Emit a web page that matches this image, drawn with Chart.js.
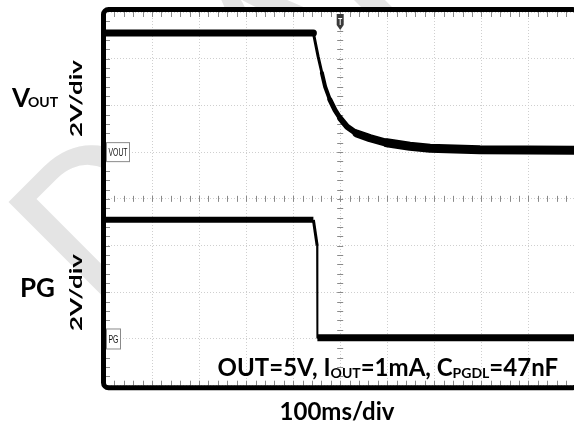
<!DOCTYPE html>
<html>
<head>
<meta charset="utf-8">
<script src="https://cdn.jsdelivr.net/npm/chart.js@4.4.1/dist/chart.umd.min.js"></script>
<style>
  html, body { margin: 0; padding: 0; background: #fff; overflow: hidden; }
  #wrap { width: 600px; height: 426px; }
</style>
</head>
<body>
<div id="wrap"><canvas id="scope" width="600" height="426"></canvas></div>
<script>
// scope settings: 100 ms/div horizontally, 2 V/div vertically, 10 x 8 divisions
const timeRangeMs = [0, 1000];
const divRange = [0, 8];
const voltsPerDiv = 2;
const voutGroundDiv = 5;
const pgGroundDiv = 1;

// VOUT trace (ms, V)
const voutTimeMs = [0, 443, 446, 453, 461, 468, 478, 489, 500, 514, 535, 563, 599, 648, 691, 797, 1000];
const voutVolts  = [5.1, 5.1, 4.8, 4.1, 3.4, 2.8, 2.25, 1.8, 1.45, 1.1, 0.8, 0.6, 0.4, 0.25, 0.17, 0.1, 0.08];

// PG trace (ms, V)
const pgTimeMs = [0, 443, 451, 451.5, 1000];
const pgVolts  = [5.1, 5.1, 4.0, 0.05, 0.05];

function toDiv(times, volts, ground) {
    return times.map((t, i) => ({ x: t, y: ground + volts[i] / voltsPerDiv }));
}

function voutWidth(ctx) {
    const x = ctx.p0.parsed.x;
    if (x < 443) return 7;
    if (x < 461) return 3;
    if (x < 478) return 4;
    if (x < 500) return 5;
    if (x < 535) return 6;
    if (x < 599) return 8;
    return 9;
}

function pgWidth(ctx) {
    const x = ctx.p0.parsed.x;
    if (x < 443) return 6;
    if (x < 451) return 3;
    if (x < 451.5) return 2;
    return 7;
}

// watermark + white screen behind the grid
const backdrop = {
    id: 'backdrop',
    beforeDraw(chart) {
        const { ctx, chartArea: a } = chart;
        ctx.save();
        ctx.fillStyle = '#e4e4e4';
        ctx.translate(92, 308);
        ctx.rotate(-Math.PI / 4);
        ctx.font = '600 186px Lato';
        ctx.textBaseline = 'alphabetic';
        ctx.fillText('DRAFT', 0, 0);
        ctx.restore();

        ctx.save();
        ctx.fillStyle = '#fff';
        ctx.fillRect(a.left - 4, a.top - 4, a.right - a.left + 8, a.bottom - a.top + 8);
        ctx.restore();
    }
};

// minor tick marks on frame and centre lines
const minorTicks = {
    id: 'minorTicks',
    beforeDatasetsDraw(chart) {
        const { ctx, chartArea: a, scales: { x, y } } = chart;
        ctx.save();
        ctx.strokeStyle = '#8a8a8a';
        ctx.lineWidth = 1;
        ctx.beginPath();
        const cx = x.getPixelForValue(500), cy = y.getPixelForValue(4);
        for (let t = timeRangeMs[0]; t <= timeRangeMs[1]; t += 20) {
            const px = Math.round(x.getPixelForValue(t)) + 0.5;
            ctx.moveTo(px, a.top); ctx.lineTo(px, a.top + 5);
            ctx.moveTo(px, a.bottom); ctx.lineTo(px, a.bottom - 5);
            ctx.moveTo(px, cy - 3); ctx.lineTo(px, cy + 3);
        }
        for (let d = divRange[0]; d <= divRange[1]; d += 0.2) {
            const py = Math.round(y.getPixelForValue(d)) + 0.5;
            ctx.moveTo(a.left, py); ctx.lineTo(a.left + 5, py);
            ctx.moveTo(cx - 3, py); ctx.lineTo(cx + 3, py);
        }
        ctx.stroke();
        ctx.restore();
    }
};

function channelTag(ctx, text, x0, yc, w, h) {
    ctx.save();
    ctx.fillStyle = '#fff';
    ctx.fillRect(x0, yc - h / 2, w, h);
    ctx.strokeStyle = '#8a8a8a';
    ctx.lineWidth = 1;
    ctx.strokeRect(x0 + 0.5, yc - h / 2 + 0.5, w - 1, h - 1);
    ctx.fillStyle = '#111';
    ctx.font = '10px "Liberation Sans"';
    const tw = ctx.measureText(text).width;
    ctx.translate(x0 + w / 2, yc + 4);
    ctx.scale((w - 5) / tw, 1);
    ctx.textAlign = 'center';
    ctx.fillText(text, 0, 0);
    ctx.restore();
}

function runs(ctx, parts, xRight, baseline) {
    let total = 0;
    parts.forEach(p => { ctx.font = 'bold ' + p[1] + 'px Lato'; total += ctx.measureText(p[0]).width; });
    let xp = xRight - total;
    parts.forEach(p => {
        ctx.font = 'bold ' + p[1] + 'px Lato';
        ctx.fillText(p[0], xp, baseline + p[2]);
        xp += ctx.measureText(p[0]).width;
    });
}

const frameAndText = {
    id: 'frameAndText',
    afterDraw(chart) {
        const { ctx, chartArea: a, scales: { x, y } } = chart;
        ctx.save();
        // frame
        ctx.strokeStyle = '#000';
        ctx.lineWidth = 5;
        ctx.beginPath();
        ctx.roundRect(a.left - 1.5, a.top - 2.5, a.right - a.left + 4, a.bottom - a.top + 4.5, 5);
        ctx.stroke();

        // trigger marker
        const tx = x.getPixelForValue(500);
        ctx.fillStyle = '#3a3a3a';
        ctx.beginPath();
        ctx.moveTo(tx - 3.5, a.top + 2);
        ctx.lineTo(tx + 3.5, a.top + 2);
        ctx.lineTo(tx + 3.5, a.top + 13);
        ctx.lineTo(tx, a.top + 18);
        ctx.lineTo(tx - 3.5, a.top + 13);
        ctx.closePath();
        ctx.fill();
        ctx.strokeStyle = '#fff';
        ctx.lineWidth = 1;
        ctx.beginPath();
        ctx.moveTo(tx - 2, a.top + 6.5); ctx.lineTo(tx + 2, a.top + 6.5);
        ctx.moveTo(tx, a.top + 6.5); ctx.lineTo(tx, a.top + 13);
        ctx.stroke();

        channelTag(ctx, 'VOUT', a.left + 1, y.getPixelForValue(voutGroundDiv), 24, 20);
        channelTag(ctx, 'PG', a.left + 1, y.getPixelForValue(pgGroundDiv), 15, 21);

        ctx.fillStyle = '#000';
        ctx.textAlign = 'left';
        ctx.textBaseline = 'alphabetic';
        // channel names
        ctx.font = 'bold 26px Lato';
        ctx.fillText('V', 12, 107);
        ctx.font = 'bold 14px Lato';
        ctx.fillText('OUT', 28, 107);
        ctx.font = 'bold 26px Lato';
        ctx.fillText('PG', 20, 297);

        // vertical scale labels
        [98.5, 292.5].forEach(cy => {
            ctx.save();
            ctx.font = 'bold 17px Lato';
            const w = ctx.measureText('2V/div').width;
            ctx.translate(82, cy);
            ctx.rotate(-Math.PI / 2);
            ctx.scale(77 / w, 1);
            ctx.textAlign = 'center';
            ctx.fillText('2V/div', 0, 0);
            ctx.restore();
        });

        // time scale
        ctx.font = 'bold 24px Lato';
        ctx.textAlign = 'center';
        ctx.fillText('100ms/div', 337, 420);

        // conditions
        ctx.textAlign = 'left';
        runs(ctx, [['OUT=5V, I', 24, 0], ['OUT', 14, 2], ['=1mA, C', 24, 0], ['PGDL', 14, 2], ['=47nF', 24, 0]], 558, 376);
        ctx.restore();
    }
};

new Chart(document.getElementById('scope'), {
    type: 'line',
    data: {
        datasets: [
            {
                label: 'VOUT',
                data: toDiv(voutTimeMs, voutVolts, voutGroundDiv),
                borderColor: '#000',
                borderWidth: 7,
                pointRadius: 0,
                tension: 0,
                borderJoinStyle: 'round',
                borderCapStyle: 'round',
                segment: { borderWidth: voutWidth }
            },
            {
                label: 'PG',
                data: toDiv(pgTimeMs, pgVolts, pgGroundDiv),
                borderColor: '#000',
                borderWidth: 6,
                pointRadius: 0,
                tension: 0,
                borderJoinStyle: 'round',
                segment: { borderWidth: pgWidth }
            }
        ]
    },
    options: {
        responsive: false,
        animation: false,
        layout: { padding: { left: 105, top: 12, right: 24.6, bottom: 40.3 } },
        plugins: { legend: { display: false }, tooltip: { enabled: false } },
        scales: {
            x: {
                type: 'linear',
                min: timeRangeMs[0],
                max: timeRangeMs[1],
                ticks: { display: false, stepSize: 100 },
                grid: { color: '#cfcfcf', lineWidth: 1, drawTicks: false },
                border: { display: false, dash: [1, 2] },
                afterFit: s => { s.height = 0; }
            },
            y: {
                min: divRange[0],
                max: divRange[1],
                ticks: { display: false, stepSize: 1 },
                grid: { color: '#cfcfcf', lineWidth: 1, drawTicks: false },
                border: { display: false, dash: [1, 2] },
                afterFit: s => { s.width = 0; }
            }
        }
    },
    plugins: [backdrop, minorTicks, frameAndText]
});
</script>
</body>
</html>
